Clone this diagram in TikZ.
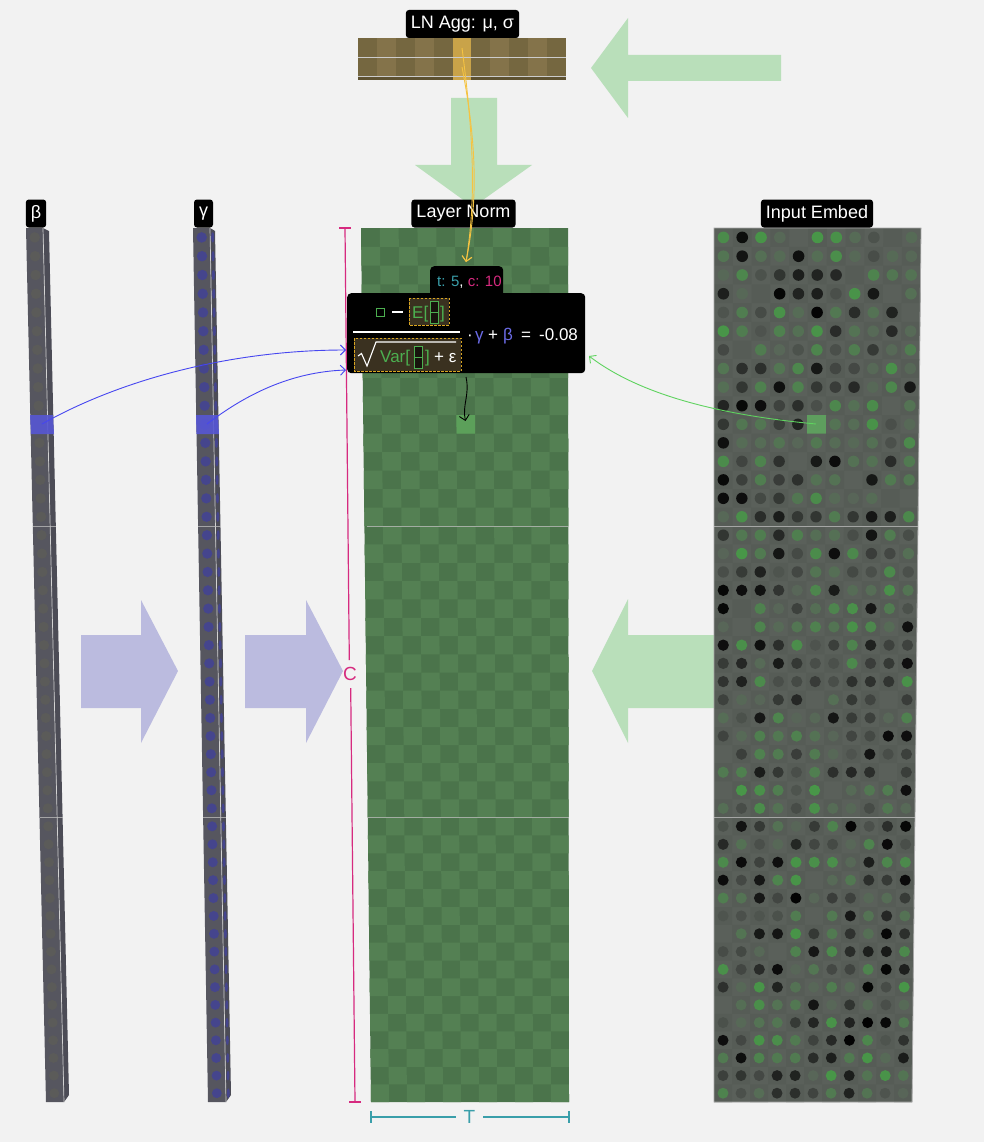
\documentclass[tikz,border=0pt]{standalone}
\usepackage{tikz}
\usepackage{fontspec}
\setmainfont{Liberation Sans}
\usetikzlibrary{arrows.meta}
\definecolor{bgc}{HTML}{F2F2F2}
\definecolor{garrow}{HTML}{B9DFBA}
\definecolor{larrow}{HTML}{BBBBDF}
\definecolor{aggA}{HTML}{756740}
\definecolor{aggB}{HTML}{84734A}
\definecolor{aggH}{HTML}{C9A349}
\definecolor{aggS}{HTML}{5E5232}
\definecolor{lnA}{HTML}{4B744B}
\definecolor{lnB}{HTML}{548053}
\definecolor{lnH}{HTML}{5CA05A}
\definecolor{embA}{HTML}{5A605A}
\definecolor{embB}{HTML}{565C56}
\definecolor{embH}{HTML}{5E9E5E}
\definecolor{dotg}{HTML}{43A443}
\definecolor{colF}{HTML}{56565F}
\definecolor{colS}{HTML}{4C4C56}
\definecolor{bdot}{HTML}{5B5B59}
\definecolor{gdot}{HTML}{45458D}
\definecolor{band}{HTML}{5656D4}
\definecolor{pinkc}{HTML}{D62A7F}
\definecolor{tealc}{HTML}{3A9FAA}
\definecolor{bluec}{HTML}{4646F0}
\definecolor{greenc}{HTML}{5FD35F}
\definecolor{yelc}{HTML}{F5C342}
\definecolor{fgreen}{HTML}{4CAF50}
\definecolor{fgold}{HTML}{D9A521}
\definecolor{fbrown}{HTML}{3A3120}
\definecolor{fblue}{HTML}{6B6BE6}
\pgfmathdeclarefunction{ymap}{1}{\pgfmathparse{228+18.833*#1-0.01302*#1*#1}}
\tikzset{
  lbl/.style={fill=black, text=white, rounded corners=3pt, inner xsep=5pt, inner ysep=0pt,
    minimum height=28pt, font=\fontsize{18}{20}\selectfont},
  ftxt/.style={inner sep=0pt, font=\fontsize{17}{19}\selectfont, text=white},
  conn/.style={line width=0.9pt, -{Straight Barb[length=5pt,width=10pt]}},
  divline/.style={draw=gray!50!white, draw opacity=0.75, line width=0.7pt},
  dimline/.style={line width=1.2pt},
}
\begin{document}
\begin{tikzpicture}[x=1pt,y=-1pt]
\fill[bgc] (0,0) rectangle (984,1142);
\path[use as bounding box] (0,0) rectangle (984,1142);

% big arrows
\fill[garrow] (781,55) -- (628,55) -- (628,18) -- (591,68) -- (628,118) -- (628,81) -- (781,81) -- cycle;
\fill[garrow] (451,98) -- (497,98) -- (497,165) -- (532,165) -- (473,207) -- (415,165) -- (451,165) -- cycle;
\fill[garrow] (716,635) -- (628,635) -- (628,599) -- (592,671) -- (628,743) -- (628,708) -- (716,708) -- cycle;
\fill[larrow] (81,635) -- (141,635) -- (141,600) -- (178,671) -- (141,743) -- (141,708) -- (81,708) -- cycle;
\fill[larrow] (245,635) -- (306,635) -- (306,600) -- (343,671) -- (306,743) -- (306,708) -- (245,708) -- cycle;

% LN Agg bar
\fill[aggS] (358,76) rectangle (566,80);
\foreach \i in {0,...,10}{
  \pgfmathsetmacro\XA{358+\i*18.9}
  \pgfmathtruncatemacro\PP{mod(\i,2)}
  \ifnum\PP=0 \fill[aggA] (\XA,38) rectangle ++(18.9,38); \else \fill[aggB] (\XA,38) rectangle ++(18.9,38); \fi
}
\fill[aggH] (452.5,38) rectangle (471.4,80);
\draw[gray!40!white, line width=0.7pt] (358,57) -- (566,57);
\draw[gray!40!white, line width=0.7pt] (358,76) -- (566,76);
\coordinate (aggmu) at (462,48);
\coordinate (aggsig) at (462,67);

% beta column
\fill[colS] (43,228) -- (49,231) -- (69,1095) -- (64,1102) -- cycle;
\fill[colF] (26,228) -- (43,228) -- (64,1102) -- (46,1102) -- cycle;
% gamma column
\fill[colS] (210,228) -- (215,231) -- (231,1095) -- (226,1102) -- cycle;
\fill[colF] (193,228) -- (210,228) -- (226,1102) -- (208,1102) -- cycle;
\foreach \j in {0,...,47}{
  \pgfmathsetmacro\Ya{ymap(\j)}
  \pgfmathsetmacro\Yb{ymap(\j+1)}
  \pgfmathsetmacro\Ym{(\Ya+\Yb)/2}
  \pgfmathsetmacro\Tm{(\Ym-228)/874}
  \pgfmathsetmacro\Rad{0.28*(\Yb-\Ya)}
  \pgfmathsetmacro\Xm{34.5+20*\Tm}
  \fill[bdot] (\Xm,\Ym) circle (\Rad);
  \pgfmathsetmacro\Xg{201.5+15.5*\Tm}
  \fill[gdot] (\Xg,\Ym) circle (\Rad);
  \pgfmathsetmacro\Xs{212.5+16*\Tm}
  \fill[gdot] (\Xs,\Ym) ellipse ({0.3*\Rad} and \Rad);
}
\draw[gray!35!white, line width=0.7pt] (43,228) -- (64,1102);
\draw[gray!35!white, line width=0.7pt] (210,228) -- (226,1102);
\draw[divline] (32.8,526) -- (55.8,526);
\draw[divline] (39.5,817) -- (62.5,817);
\draw[divline] (198,526) -- (220.5,526);
\draw[divline] (203,817) -- (226,817);
\fill[band, opacity=0.9] (30,415) -- (53,415) -- (54,434) -- (31,434) -- cycle;
\fill[band, opacity=0.9] (196,415) -- (218,415) -- (219,434) -- (196.5,434) -- cycle;
\coordinate (bcell) at (42,424);
\coordinate (gcell) at (207,424);

% Layer norm grid
\fill[lnA] (361,228) -- (568,228) -- (569,1102) -- (371,1102) -- cycle;
\foreach \j in {0,...,47}{
  \pgfmathsetmacro\Ya{ymap(\j)}
  \pgfmathsetmacro\Yb{ymap(\j+1)}
  \pgfmathsetmacro\Ta{(\Ya-228)/874}
  \pgfmathsetmacro\Tb{(\Yb-228)/874}
  \pgfmathsetmacro\La{361+10*\Ta}
  \pgfmathsetmacro\Ra{568+\Ta}
  \pgfmathsetmacro\Lb{361+10*\Tb}
  \pgfmathsetmacro\Rb{568+\Tb}
  \foreach \i in {0,...,10}{
    \pgfmathtruncatemacro\PP{mod(\i+\j,2)}
    \ifnum\PP=1
      \pgfmathsetmacro\Xa{\La+(\Ra-\La)*\i/11}
      \pgfmathsetmacro\Xb{\La+(\Ra-\La)*(\i+1)/11}
      \pgfmathsetmacro\Xc{\Lb+(\Rb-\Lb)*\i/11}
      \pgfmathsetmacro\Xd{\Lb+(\Rb-\Lb)*(\i+1)/11}
      \fill[lnB] (\Xa,\Ya) -- (\Xb,\Ya) -- (\Xd,\Yb) -- (\Xc,\Yb) -- cycle;
    \fi
  }
}
\draw[divline] (366.5,526) -- (568.3,526);
\draw[divline] (367.7,817) -- (568.7,817);
\fill[lnH] (456.3,415) -- (475,415) -- (475.1,433.6) -- (456.6,433.6) -- cycle;
\coordinate (lncell) at (465.5,421);

% Input embed grid
\fill[embA] (714,228) -- (921,228) -- (912,1102) -- (714,1102) -- cycle;
\pgfmathsetseed{20}
\foreach \j in {0,...,47}{
  \pgfmathsetmacro\Ya{ymap(\j)}
  \pgfmathsetmacro\Yb{ymap(\j+1)}
  \pgfmathsetmacro\Ta{(\Ya-228)/874}
  \pgfmathsetmacro\Tb{(\Yb-228)/874}
  \pgfmathsetmacro\Ra{921-9*\Ta}
  \pgfmathsetmacro\Rb{921-9*\Tb}
  \pgfmathsetmacro\Rad{0.31*(\Yb-\Ya)}
  \pgfmathsetmacro\Ym{(\Ya+\Yb)/2}
  \foreach \i in {0,...,10}{
    \pgfmathsetmacro\Xa{714+(\Ra-714)*\i/11}
    \pgfmathsetmacro\Xb{714+(\Ra-714)*(\i+1)/11}
    \pgfmathsetmacro\Xc{714+(\Rb-714)*\i/11}
    \pgfmathsetmacro\Xd{714+(\Rb-714)*(\i+1)/11}
    \pgfmathsetmacro\Xm{(\Xa+\Xb+\Xc+\Xd)/4}
    \pgfmathtruncatemacro\PP{mod(\i+\j,2)}
    \ifnum\PP=1 \fill[embB] (\Xa,\Ya) -- (\Xb,\Ya) -- (\Xd,\Yb) -- (\Xc,\Yb) -- cycle; \fi
    \pgfmathsetmacro\Vr{2*rnd-1}
    \ifdim\Vr pt>0.05pt
      \pgfmathtruncatemacro\Pc{8+72*(\Vr^1.6)}
      \fill[dotg!\Pc!embA] (\Xm,\Ym) circle (\Rad);
    \else\ifdim\Vr pt<-0.05pt
      \pgfmathtruncatemacro\Pc{12+88*(abs(\Vr)^1.4)}
      \fill[black!\Pc!embA] (\Xm,\Ym) circle (\Rad);
    \fi\fi
  }
}
\draw[gray!70!white, line width=0.8pt] (714,228) -- (921,228) -- (912,1102) -- (714,1102) -- cycle;
\draw[divline] (714,526) -- (918,526);
\draw[divline] (714,817) -- (915,817);
\fill[embH] (807.2,415) -- (826,415) -- (825.8,433.6) -- (807.2,433.6) -- cycle;
\coordinate (emcell) at (816,424);

% dimensions
\draw[pinkc, dimline] (345,228) -- (349.3,660);
\draw[pinkc, dimline] (350.7,688) -- (355,1102);
\draw[pinkc, dimline] (339,228) -- (351,228);
\draw[pinkc, dimline] (349,1102) -- (361,1102);
\node[text=pinkc, font=\fontsize{19}{21}\selectfont, inner sep=0pt] (cdim) at (350,674) {C};
\draw[tealc, dimline] (371,1117) -- (456,1117);
\draw[tealc, dimline] (483,1117) -- (569,1117);
\draw[tealc, dimline] (371,1111) -- (371,1123);
\draw[tealc, dimline] (569,1111) -- (569,1123);
\node[text=tealc, font=\fontsize{19}{21}\selectfont, inner sep=0pt] (tdim) at (469.5,1117) {T};

% labels
\node[lbl] (aggl) at (462.5,24) {LN Agg: μ, σ};
\node[lbl] (betal) at (36,213.5) {β};
\node[lbl] (gammal) at (203.5,213.5) {γ};
\node[lbl] (lnl) at (463.5,213.5) {Layer Norm};
\node[lbl] (embl) at (817,213.5) {Input Embed};

% formula box
\node[fill=black, rounded corners=4pt, minimum height=32pt, minimum width=73pt, anchor=north west, inner sep=0pt] (tab) at (430,266) {};
\node[fill=black, rounded corners=4pt, minimum height=80pt, minimum width=238pt, anchor=north west, inner sep=0pt] (fml) at (347,293) {};
\node[ftxt, font=\fontsize{15}{17}\selectfont, anchor=base west] (tabt) at (437,286) {\textcolor{tealc}{t: 5}, \textcolor{pinkc}{c: 10}};
% numerator
\draw[fgreen, line width=1pt] (376,308) rectangle (384,316);
\draw[white, line width=1.3pt] (392,312) -- (403,312);
\draw[fgold, fill=fbrown, line width=0.8pt, dash pattern=on 2.5pt off 1.5pt] (409,298) rectangle (449,325);
\node[ftxt, text=fgreen, anchor=base west] (numE) at (412,318) {E[};
\draw[fgreen, fill=black!60!fbrown, line width=0.8pt] (430,301) rectangle (438,323);
\draw[fgreen, line width=0.8pt] (430,312) -- (438,312);
\node[ftxt, text=fgreen, anchor=base west] (numB) at (440,318) {]};
\draw[white, line width=1.5pt] (353,332) -- (460,332);
% denominator
\draw[fgold, fill=fbrown, line width=0.8pt, dash pattern=on 2.5pt off 1.5pt] (354,338) rectangle (461,371);
\draw[white, line width=1.1pt, line join=miter] (358,356) -- (361.5,353.5) -- (367,366) -- (376,342) -- (456,342);
\node[ftxt, text=fgreen, anchor=base west] (denV) at (380,362) {Var[};
\draw[fgreen, fill=black!60!fbrown, line width=0.8pt] (414,346) rectangle (422,368);
\draw[fgreen, line width=0.8pt] (414,357) -- (422,357);
\node[ftxt, text=fgreen, anchor=base west] (denB) at (425,362) {]};
\node[ftxt, anchor=base west] (denE) at (434,362) {+ ε};
% right part
\node[ftxt, anchor=base west] (dot) at (467,340) {·};
\node[ftxt, text=fblue, anchor=base west] (gam) at (475,340) {γ};
\node[ftxt, anchor=base west] (plus) at (488,340) {+};
\node[ftxt, text=fblue, anchor=base west] (bet) at (503,340) {β};
\node[ftxt, anchor=base west] (eq) at (521,340) {=};
\node[ftxt, anchor=base west] (res) at (539,340) {-0.08};

\coordinate (inB) at (346,350);
\coordinate (inG) at (346,370);
\coordinate (inE) at (589,356);
\coordinate (fbot) at (466,377);
\coordinate (tabtop) at (466,262);

% connectors
\draw[conn, bluec] (bcell) .. controls (120,380) and (230,350) .. (inB);
\draw[conn, bluec] (gcell) .. controls (245,395) and (290,372) .. (inG);
\draw[conn, greenc] (emcell) .. controls (720,415) and (640,395) .. (inE);
\draw[conn, black] (fbot) .. controls (470,395) and (462,405) .. (lncell);
\draw[conn, yelc] (aggmu) .. controls (474,140) and (476,200) .. (tabtop);
\draw[conn, yelc] (aggsig) .. controls (478,150) and (477,205) .. (tabtop);
\end{tikzpicture}
\end{document}
